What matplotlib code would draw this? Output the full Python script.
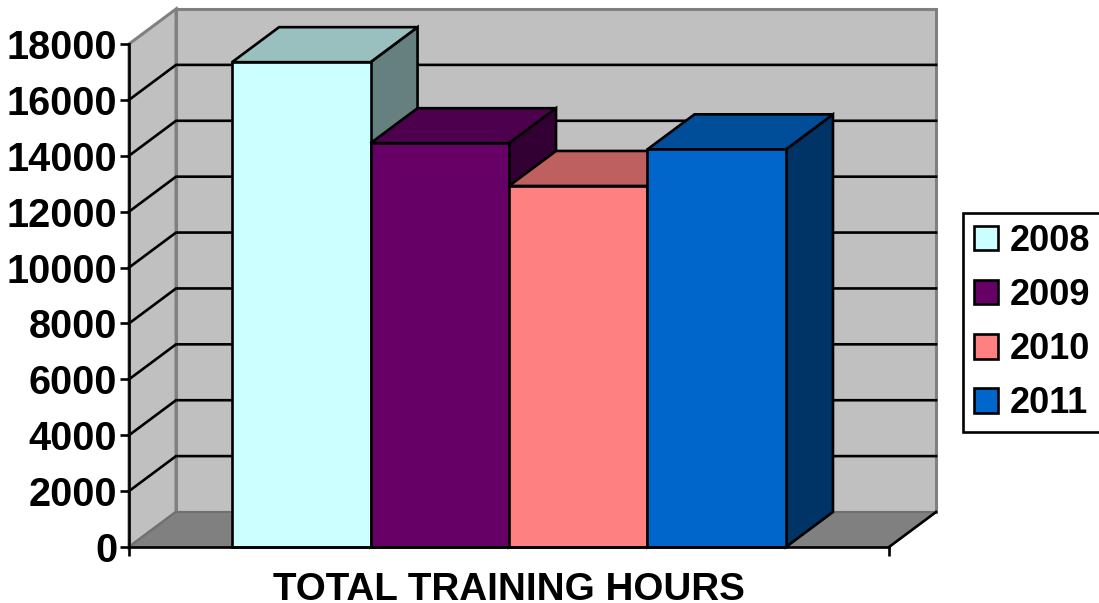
import matplotlib
matplotlib.use("Agg")
import matplotlib.pyplot as plt
from matplotlib.patches import Polygon, Patch

plt.rcParams['font.family'] = ['Liberation Sans', 'DejaVu Sans']
plt.rcParams['font.weight'] = 'bold'

years = ['2008', '2009', '2010', '2011']
hours = [17350, 14450, 12920, 14230]
colors = ['#CCFFFF', '#660066', '#FF8080', '#0066CC']
y_ticks = [0, 2000, 4000, 6000, 8000, 10000, 12000, 14000, 16000, 18000]
x_label = 'TOTAL TRAINING HOURS'

W, H = 1099, 603
fig = plt.figure(figsize=(W / 100, H / 100), dpi=100)
ax = fig.add_axes([129 / W, (H - 547) / H, 760 / W, 503 / H])
ax.patch.set_visible(False)

bar_px = 138.4
gap = 103 / bar_px
x0, x1 = -0.5 - gap, 3.5 + gap
ymax = y_ticks[-1]
ax.set_xlim(x0, x1)
ax.set_ylim(0, ymax)

# depth of the fake 3d box, in data units
dx = 47 / bar_px
dy = 35 / 503 * ymax
lw = 1.9


def poly(pts, face, edge='black', z=2, lw=lw):
    ax.add_patch(Polygon(pts, closed=True, facecolor=face, edgecolor=edge, lw=lw,
                         zorder=z, clip_on=False, joinstyle='miter'))


def shade(c, k):
    r, g, b = matplotlib.colors.to_rgb(c)
    return (r * k, g * k, b * k)


# walls and floor
poly([(x0 + dx, dy), (x1 + dx, dy), (x1 + dx, ymax + dy), (x0 + dx, ymax + dy)], '#C0C0C0', '#808080', 1, 2.2)
poly([(x0, 0), (x0 + dx, dy), (x0 + dx, ymax + dy), (x0, ymax)], '#C0C0C0', '#808080', 1, 2.2)
poly([(x0, 0), (x1, 0), (x1 + dx, dy), (x0 + dx, dy)], '#808080', '#707070', 1, 1.5)
ax.plot([x1, x1 + dx], [0, dy], color='black', lw=lw, zorder=1.5, clip_on=False)

# gridlines on side wall and back wall
for v in y_ticks[1:-1]:
    ax.plot([x0, x0 + dx, x1 + dx], [v, v + dy, v + dy], color='black', lw=lw,
            zorder=1.5, clip_on=False, solid_joinstyle='miter')

# bars, left to right so the later ones sit over the earlier ones
for i, (v, c) in enumerate(zip(hours, colors)):
    l, r = i - 0.5, i + 0.5
    poly([(r, 0), (r + dx, dy), (r + dx, v + dy), (r, v)], shade(c, 0.5), z=3 + i)
    poly([(l, v), (r, v), (r + dx, v + dy), (l + dx, v + dy)], shade(c, 0.75), z=3 + i)
    poly([(l, 0), (r, 0), (r, v), (l, v)], c, z=3 + i)

for s in ['top', 'right']:
    ax.spines[s].set_visible(False)
for s in ['left', 'bottom']:
    ax.spines[s].set_linewidth(lw)
    ax.spines[s].set_zorder(10)

ax.set_yticks(y_ticks)
ax.set_xticks([x0, x1])
ax.set_xticklabels(['', ''])
ax.tick_params(axis='both', length=6.5, width=lw, pad=2)
ax.tick_params(axis='y', labelsize=28.5)
ax.set_xlabel(x_label, fontsize=27.8, fontweight='bold')
ax.xaxis.set_label_coords((509 - 129) / 760, -0.05)
ax.xaxis.label.set_va('top')

handles = [Patch(facecolor=c, edgecolor='black', lw=lw, label=y) for y, c in zip(years, colors)]
leg = fig.legend(handles=handles, loc='upper left', bbox_to_anchor=(963 / W, (H - 213) / H),
                 fontsize=26, frameon=True, fancybox=False, edgecolor='black', framealpha=1,
                 handlelength=0.66, handleheight=0.66, handletextpad=0.33, labelspacing=0.53,
                 borderpad=0.3, borderaxespad=0)
leg.get_frame().set_linewidth(lw)

fig.savefig('out.png', dpi=100)
